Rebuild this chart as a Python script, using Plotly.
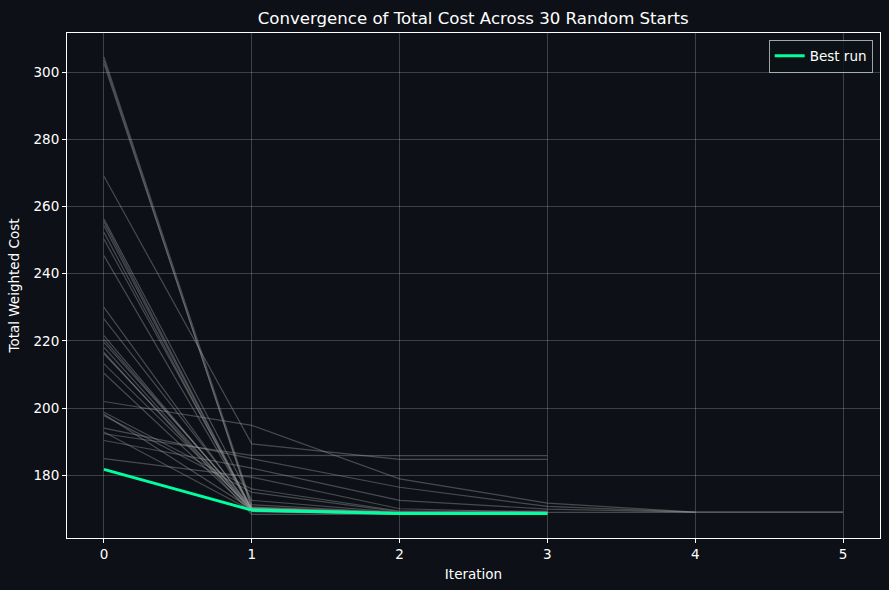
import plotly.graph_objects as go

# Cost per iteration for each of the 30 random starts
run_costs = [
    [202.0, 194.9, 179.0, 171.8, 169.1, 169.1],
    [269.0, 189.4, 184.8, 184.8],
    [192.4, 186.0, 185.9, 185.9],
    [194.1, 185.0, 176.5, 170.8, 169.1, 169.1],
    [190.4, 182.2, 172.6, 170.0, 169.1],
    [185.0, 179.5, 170.1, 169.0, 169.0],
    [198.8, 176.0, 169.4, 169.4],
    [197.8, 175.0, 169.2, 169.2],
    [256.3, 172.6, 169.0, 169.0],
    [304.5, 171.3, 168.9, 168.9],
    [303.5, 170.1, 168.8, 168.8],
    [302.5, 170.6, 169.0, 169.0],
    [255.5, 170.0, 168.7],
    [254.3, 169.8, 168.7, 168.7],
    [252.3, 169.5, 168.8],
    [250.3, 170.2, 168.6, 168.6],
    [245.4, 169.9, 168.9],
    [230.0, 169.6, 168.7],
    [226.6, 170.3, 168.8, 168.8],
    [221.6, 169.4, 168.6],
    [220.5, 169.8, 168.7],
    [219.6, 170.4, 168.9, 168.9],
    [218.1, 169.2, 168.6],
    [216.6, 168.4, 168.4],
    [216.2, 169.7, 168.7],
    [213.2, 170.1, 168.9],
    [210.4, 169.3, 168.6, 168.6],
    [198.2, 170.0, 168.8],
    [192.9, 169.5, 168.7],
]
best_run = [181.8, 169.7, 168.7, 168.7]

x_ticks = [0, 1, 2, 3, 4, 5]
y_ticks = [180, 200, 220, 240, 260, 280, 300]

BG = "#0d1117"
FONT = "DejaVu Sans"

fig = go.Figure()
for costs in run_costs:
    fig.add_trace(go.Scatter(
        x=list(range(len(costs))), y=costs, mode="lines",
        line=dict(color="rgba(160,160,160,0.4)", width=1.2),
        showlegend=False, hoverinfo="skip",
    ))
fig.add_trace(go.Scatter(
    x=list(range(len(best_run))), y=best_run, mode="lines",
    line=dict(color="#00ff9f", width=3), name="Best run",
))

axis_common = dict(
    showline=True, mirror=True, linecolor="#ffffff", linewidth=1,
    ticks="outside", ticklen=4, tickcolor="#ffffff", tickwidth=1,
    showgrid=True, gridcolor="rgba(255,255,255,0.2)", gridwidth=1,
    zeroline=False, tickfont=dict(family=FONT, size=13.5, color="#ffffff"),
)

fig.update_layout(
    width=889, height=590,
    paper_bgcolor=BG, plot_bgcolor=BG,
    margin=dict(l=66.5, r=9, t=32.5, b=52),
    font=dict(family=FONT, color="#ffffff", size=13.5),
    title=dict(text="Convergence of Total Cost Across 30 Random Starts",
               x=(66.5 + 880) / 2 / 889, xanchor="center",
               y=1 - 18 / 590, yanchor="middle",
               font=dict(family=FONT, size=16.6, color="#ffffff")),
    xaxis=dict(range=[-0.25, 5.25], tickvals=x_ticks,
               title=dict(text="Iteration", font=dict(family=FONT, size=13.5), standoff=8),
               **axis_common),
    yaxis=dict(range=[161.4, 311.6], tickvals=y_ticks,
               title=dict(text="Total Weighted Cost", font=dict(family=FONT, size=13.5), standoff=10),
               **axis_common),
    legend=dict(x=0.991, y=0.987, xanchor="right", yanchor="top",
                bgcolor="rgba(13,17,23,0.8)", bordercolor="rgba(200,200,200,0.8)",
                borderwidth=1, font=dict(family=FONT, size=13.5, color="#ffffff")),
)

fig.write_html(
    "out.html",
    config={"displayModeBar": False},
    post_script="document.body.style.margin='0';document.body.style.background='#0d1117';"
                "document.documentElement.style.background='#0d1117';",
)
